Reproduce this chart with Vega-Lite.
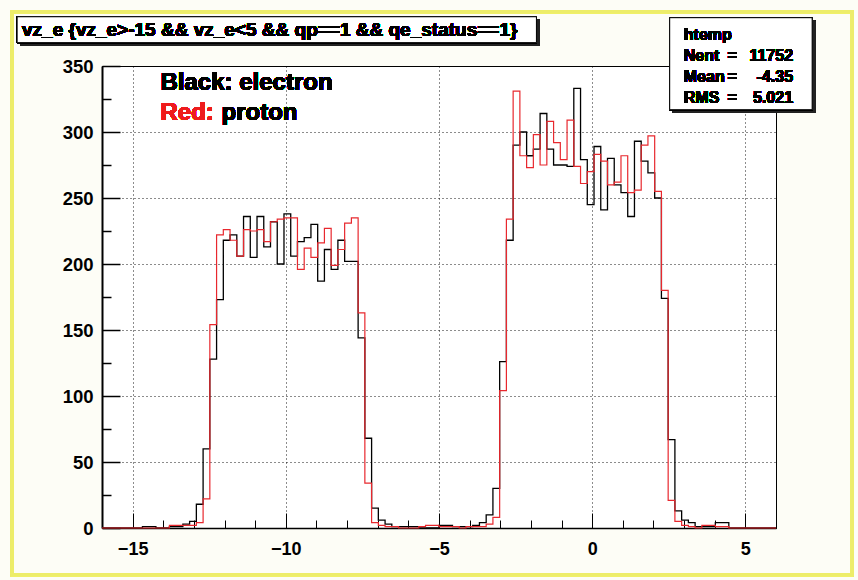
{
  "$schema": "https://vega.github.io/schema/vega-lite/v6.json",
  "width": 674,
  "height": 462,
  "autosize": {"type": "none"},
  "padding": {"left": 102, "top": 66, "right": 82, "bottom": 52},
  "background": "#fdfdf6",
  "config": {
    "view": {"stroke": "black", "strokeWidth": 1, "fill": "white"},
    "font": "Liberation Sans"
  },
  "data": {
    "values": [
      {"vz": -16, "electron": 0, "proton": 0},
      {"vz": -15.78, "electron": 0, "proton": 0},
      {"vz": -15.56, "electron": 0, "proton": 0},
      {"vz": -15.34, "electron": 0, "proton": 0},
      {"vz": -15.12, "electron": 0, "proton": 0},
      {"vz": -14.9, "electron": 0, "proton": 0},
      {"vz": -14.68, "electron": 1, "proton": 0},
      {"vz": -14.46, "electron": 1, "proton": 0},
      {"vz": -14.24, "electron": 0, "proton": 0},
      {"vz": -14.02, "electron": 0, "proton": 0},
      {"vz": -13.8, "electron": 1, "proton": 2},
      {"vz": -13.58, "electron": 1, "proton": 2},
      {"vz": -13.36, "electron": 3, "proton": 2},
      {"vz": -13.14, "electron": 5, "proton": 2},
      {"vz": -12.92, "electron": 18, "proton": 4},
      {"vz": -12.7, "electron": 60, "proton": 22},
      {"vz": -12.48, "electron": 128, "proton": 154},
      {"vz": -12.26, "electron": 173, "proton": 222},
      {"vz": -12.04, "electron": 218, "proton": 226},
      {"vz": -11.82, "electron": 222, "proton": 218},
      {"vz": -11.6, "electron": 206, "proton": 206},
      {"vz": -11.38, "electron": 236, "proton": 226},
      {"vz": -11.16, "electron": 205, "proton": 225},
      {"vz": -10.94, "electron": 236, "proton": 226},
      {"vz": -10.72, "electron": 213, "proton": 217},
      {"vz": -10.5, "electron": 232, "proton": 232},
      {"vz": -10.28, "electron": 200, "proton": 234},
      {"vz": -10.06, "electron": 238, "proton": 235},
      {"vz": -9.84, "electron": 206, "proton": 235},
      {"vz": -9.62, "electron": 217, "proton": 196},
      {"vz": -9.4, "electron": 220, "proton": 212},
      {"vz": -9.18, "electron": 230, "proton": 205},
      {"vz": -8.96, "electron": 187, "proton": 216},
      {"vz": -8.74, "electron": 211, "proton": 227},
      {"vz": -8.52, "electron": 196, "proton": 199},
      {"vz": -8.3, "electron": 218, "proton": 211},
      {"vz": -8.08, "electron": 202, "proton": 231},
      {"vz": -7.86, "electron": 202, "proton": 235},
      {"vz": -7.64, "electron": 144, "proton": 163},
      {"vz": -7.42, "electron": 68, "proton": 34},
      {"vz": -7.2, "electron": 15, "proton": 4},
      {"vz": -6.98, "electron": 6, "proton": 2},
      {"vz": -6.76, "electron": 3, "proton": 1},
      {"vz": -6.54, "electron": 1, "proton": 1},
      {"vz": -6.32, "electron": 1, "proton": 0},
      {"vz": -6.1, "electron": 1, "proton": 0},
      {"vz": -5.88, "electron": 1, "proton": 0},
      {"vz": -5.66, "electron": 0, "proton": 1},
      {"vz": -5.44, "electron": 0, "proton": 2},
      {"vz": -5.22, "electron": 0, "proton": 2},
      {"vz": -5, "electron": 2, "proton": 1},
      {"vz": -4.78, "electron": 2, "proton": 1},
      {"vz": -4.56, "electron": 1, "proton": 1},
      {"vz": -4.34, "electron": 1, "proton": 0},
      {"vz": -4.12, "electron": 1, "proton": 1},
      {"vz": -3.9, "electron": 2, "proton": 1},
      {"vz": -3.68, "electron": 4, "proton": 1},
      {"vz": -3.46, "electron": 10, "proton": 3},
      {"vz": -3.24, "electron": 30, "proton": 8},
      {"vz": -3.02, "electron": 126, "proton": 104},
      {"vz": -2.8, "electron": 218, "proton": 234},
      {"vz": -2.58, "electron": 290, "proton": 331},
      {"vz": -2.36, "electron": 300, "proton": 282},
      {"vz": -2.14, "electron": 282, "proton": 273},
      {"vz": -1.92, "electron": 287, "proton": 298},
      {"vz": -1.7, "electron": 314, "proton": 275},
      {"vz": -1.48, "electron": 287, "proton": 308},
      {"vz": -1.26, "electron": 275, "proton": 292},
      {"vz": -1.04, "electron": 275, "proton": 279},
      {"vz": -0.82, "electron": 274, "proton": 309},
      {"vz": -0.6, "electron": 333, "proton": 274},
      {"vz": -0.38, "electron": 279, "proton": 261},
      {"vz": -0.16, "electron": 245, "proton": 270},
      {"vz": 0.06, "electron": 289, "proton": 283},
      {"vz": 0.28, "electron": 241, "proton": 278},
      {"vz": 0.5, "electron": 280, "proton": 260},
      {"vz": 0.72, "electron": 260, "proton": 262},
      {"vz": 0.94, "electron": 254, "proton": 282},
      {"vz": 1.16, "electron": 236, "proton": 254},
      {"vz": 1.38, "electron": 293, "proton": 256},
      {"vz": 1.6, "electron": 278, "proton": 290},
      {"vz": 1.82, "electron": 269, "proton": 297},
      {"vz": 2.04, "electron": 250, "proton": 255},
      {"vz": 2.26, "electron": 174, "proton": 180},
      {"vz": 2.48, "electron": 67, "proton": 21},
      {"vz": 2.7, "electron": 13, "proton": 5},
      {"vz": 2.92, "electron": 6, "proton": 2},
      {"vz": 3.14, "electron": 4, "proton": 1},
      {"vz": 3.36, "electron": 1, "proton": 0},
      {"vz": 3.58, "electron": 1, "proton": 2},
      {"vz": 3.8, "electron": 1, "proton": 2},
      {"vz": 4.02, "electron": 4, "proton": 1},
      {"vz": 4.24, "electron": 4, "proton": 1},
      {"vz": 4.46, "electron": 0, "proton": 0},
      {"vz": 4.68, "electron": 0, "proton": 0},
      {"vz": 4.9, "electron": 0, "proton": 0},
      {"vz": 5.12, "electron": 0, "proton": 0},
      {"vz": 5.34, "electron": 0, "proton": 0},
      {"vz": 5.56, "electron": 0, "proton": 0},
      {"vz": 5.78, "electron": 0, "proton": 0},
      {"vz": 6, "electron": 0, "proton": 0}
    ]
  },
  "resolve": {"axis": {"x": "independent", "y": "independent"}},
  "layer": [
    {
      "mark": {"type": "rect", "fill": null, "stroke": "#eded6a", "strokeWidth": 3},
      "encoding": {
        "x": {"datum": -18.935, "type": "quantitative", "axis": null},
        "x2": {"datum": 8.486},
        "y": {"datum": 391.1, "type": "quantitative", "axis": null},
        "y2": {"datum": -35.4}
      }
    },
    {
      "mark": {"type": "line", "interpolate": "step-after", "color": "black", "strokeWidth": 1.3},
      "encoding": {
        "x": {
          "field": "vz", "type": "quantitative",
          "scale": {"domain": [-16, 6], "nice": false, "zero": false},
          "axis": {
            "orient": "bottom", "title": null, "values": [-15, -10, -5, 0, 5],
            "tickSize": -15, "tickColor": "black", "tickWidth": 1,
            "labelFont": "Liberation Sans", "labelFontWeight": "bold", "labelFontSize": 18,
            "labelColor": "black", "labelPadding": 27,
            "grid": true, "gridColor": "black", "gridDash": [1, 3], "gridWidth": 1, "gridOpacity": 0.9,
            "domainColor": "black", "domainWidth": 1.5
          }
        },
        "y": {
          "field": "electron", "type": "quantitative",
          "scale": {"domain": [0, 350], "nice": false, "zero": false},
          "axis": {
            "orient": "left", "title": null, "values": [0, 50, 100, 150, 200, 250, 300, 350],
            "tickSize": -18, "tickColor": "black", "tickWidth": 1.5,
            "labelFont": "Liberation Sans", "labelFontWeight": "bold", "labelFontSize": 18.5,
            "labelColor": "black", "labelPadding": 27,
            "grid": true, "gridColor": "black", "gridDash": [1, 3], "gridWidth": 1, "gridOpacity": 0.9,
            "domainColor": "black", "domainWidth": 2
          }
        }
      }
    },
    {
      "mark": {"type": "line", "interpolate": "step-after", "color": "#e8282e", "strokeWidth": 1.2},
      "encoding": {
        "x": {
          "field": "vz", "type": "quantitative",
          "axis": {
            "orient": "bottom", "title": null,
            "values": [-16, -14, -13, -12, -11, -9, -8, -7, -6, -4, -3, -2, -1, 1, 2, 3, 4, 6],
            "tickSize": -8, "tickColor": "black", "tickWidth": 1,
            "labels": false, "grid": false, "domain": false
          }
        },
        "y": {
          "field": "proton", "type": "quantitative",
          "axis": {
            "orient": "left", "title": null,
            "values": [25, 75, 125, 175, 225, 275, 325],
            "tickSize": -9, "tickColor": "black", "tickWidth": 1.5,
            "labels": false, "grid": false, "domain": false
          }
        }
      }
    },
    {
      "mark": {"type": "rect", "fill": "#222222"},
      "encoding": {
        "x": {"datum": -18.67, "type": "quantitative", "axis": null},
        "x2": {"datum": -1.72},
        "y": {"datum": 365.4, "type": "quantitative", "axis": null},
        "y2": {"datum": 385.0}
      }
    },
    {
      "mark": {"type": "rect", "fill": "white", "stroke": "black", "strokeWidth": 1},
      "encoding": {
        "x": {"datum": -18.77, "type": "quantitative", "axis": null},
        "x2": {"datum": -1.82},
        "y": {"datum": 367.7, "type": "quantitative", "axis": null},
        "y2": {"datum": 387.3}
      }
    },
    {
      "mark": {"type": "text", "align": "left", "baseline": "middle", "font": "Liberation Sans", "fontWeight": "bold", "fontSize": 19, "color": "black"},
      "encoding": {
        "x": {"datum": -18.61, "type": "quantitative", "axis": null},
        "y": {"datum": 377.5, "type": "quantitative", "axis": null},
        "text": {"value": "vz_e {vz_e>-15 && vz_e<5 && qp==1 && qe_status==1}"}
      }
    },
    {
      "mark": {"type": "rect", "fill": "#222222"},
      "encoding": {
        "x": {"datum": 2.63, "type": "quantitative", "axis": null},
        "x2": {"datum": 7.28},
        "y": {"datum": 314.6, "type": "quantitative", "axis": null},
        "y2": {"datum": 384.3}
      }
    },
    {
      "mark": {"type": "rect", "fill": "white", "stroke": "black", "strokeWidth": 1},
      "encoding": {
        "x": {"datum": 2.53, "type": "quantitative", "axis": null},
        "x2": {"datum": 7.18},
        "y": {"datum": 316.9, "type": "quantitative", "axis": null},
        "y2": {"datum": 386.6}
      }
    },
    {
      "mark": {"type": "text", "align": "left", "baseline": "middle", "font": "Liberation Sans", "fontWeight": "bold", "fontSize": 16, "lineHeight": 21, "color": "black"},
      "encoding": {
        "x": {"datum": 2.99, "type": "quantitative", "axis": null},
        "y": {"datum": 373.6, "type": "quantitative", "axis": null},
        "text": {"value": ["htemp", "Nent", "Mean", "RMS"]}
      }
    },
    {
      "mark": {"type": "text", "align": "left", "baseline": "middle", "font": "Liberation Sans", "fontWeight": "bold", "fontSize": 16, "lineHeight": 21, "color": "black"},
      "encoding": {
        "x": {"datum": 4.42, "type": "quantitative", "axis": null},
        "y": {"datum": 373.6, "type": "quantitative", "axis": null},
        "text": {"value": [" ", "=", "=", "="]}
      }
    },
    {
      "mark": {"type": "text", "align": "right", "baseline": "middle", "font": "Liberation Sans", "fontWeight": "bold", "fontSize": 16, "lineHeight": 21, "color": "black"},
      "encoding": {
        "x": {"datum": 6.556, "type": "quantitative", "axis": null},
        "y": {"datum": 373.6, "type": "quantitative", "axis": null},
        "text": {"value": [" ", "11752", "-4.35", "5.021"]}
      }
    },
    {
      "mark": {"type": "text", "align": "left", "baseline": "middle", "font": "Liberation Sans", "fontWeight": "bold", "fontSize": 24, "color": "black"},
      "encoding": {
        "x": {"datum": -14.09, "type": "quantitative", "axis": null},
        "y": {"datum": 337.3, "type": "quantitative", "axis": null},
        "text": {"value": "Black: electron"}
      }
    },
    {
      "mark": {"type": "text", "align": "left", "baseline": "middle", "font": "Liberation Sans", "fontWeight": "bold", "fontSize": 24, "color": "#ee1c1c"},
      "encoding": {
        "x": {"datum": -14.09, "type": "quantitative", "axis": null},
        "y": {"datum": 314.6, "type": "quantitative", "axis": null},
        "text": {"value": "Red:"}
      }
    },
    {
      "mark": {"type": "text", "align": "left", "baseline": "middle", "font": "Liberation Sans", "fontWeight": "bold", "fontSize": 24, "color": "black"},
      "encoding": {
        "x": {"datum": -12.1, "type": "quantitative", "axis": null},
        "y": {"datum": 314.6, "type": "quantitative", "axis": null},
        "text": {"value": "proton"}
      }
    }
  ]
}
